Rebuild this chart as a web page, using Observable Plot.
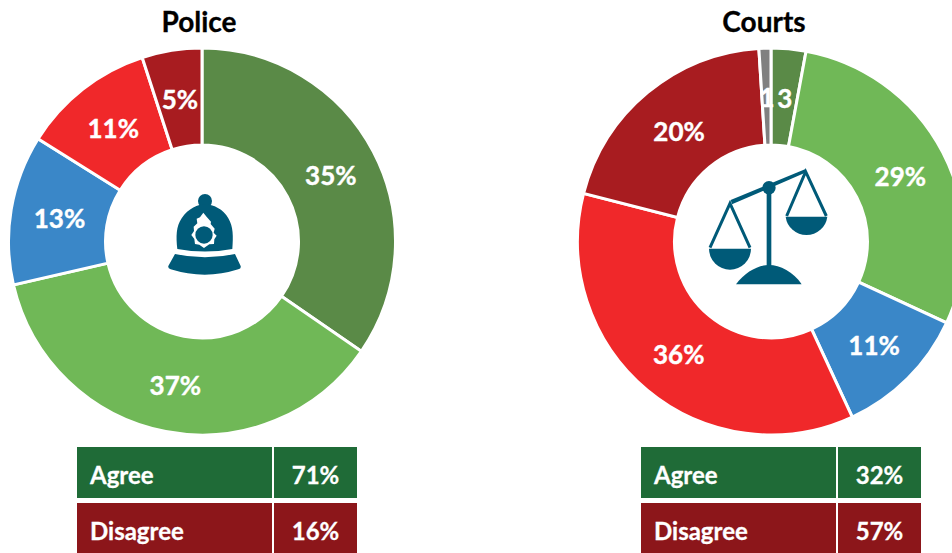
<!DOCTYPE html>
<html>
<head>
<meta charset="utf-8">
<script src="https://cdn.jsdelivr.net/npm/d3@7"></script>
<script src="https://cdn.jsdelivr.net/npm/@observablehq/plot@0.6"></script>
<style>
  html, body { margin: 0; padding: 0; background: #fff; }
  #page { position: relative; width: 952px; height: 553px; overflow: hidden; font-family: Lato, sans-serif; }
  #page svg { position: absolute; left: 0; top: 0; }
  .title { position: absolute; top: 3px; font-size: 28px; font-weight: 700; color: #000; transform: translateX(-50%); line-height: 36px; -webkit-text-stroke: 0.3px #000; }
  .tcell { position: absolute; color: #fff; font-size: 24px; font-weight: 700; box-sizing: border-box; display: flex; align-items: center; padding-top: 3px; -webkit-text-stroke: 0.3px #fff; }
</style>
</head>
<body>
<div id="page"></div>
<script>
const categories = ["Strongly agree", "Tend to agree", "Neither", "Tend to disagree", "Strongly disagree", "Don't know"];
const colours = ["#5A8A47", "#70B857", "#3A87C8", "#F0282A", "#A81C20", "#808080"];

const policeValues = [34.6, 36.8, 12.5, 11.1, 5.0];
const policeLabels = ["35%", "37%", "13%", "11%", "5%"];
const courtsValues = [2.9, 29.0, 11.2, 35.9, 20.0, 1.0];
const courtsLabels = ["3", "29%", "11%", "36%", "20%", "1"];

const panelNames = ["Police", "Courts"];
const summaryLabels = ["Agree", "Disagree"];
const policeSummary = ["71%", "16%"];
const courtsSummary = ["32%", "57%"];

const rows = (values, labels) => values.map((value, i) => ({category: categories[i], value, label: labels[i]}));
const police = rows(policeValues, policeLabels);
const courts = rows(courtsValues, courtsLabels);

const cy = 241.5, rOuter = 193.5, rInner = 96.5, rLabel = 145;

function arcs(cx) {
  return (index, scales, values) => {
    const arc = d3.arc().innerRadius(rInner).outerRadius(rOuter);
    const g = d3.create("svg:g").attr("transform", `translate(${cx},${cy})`);
    for (const i of index) {
      g.append("path")
        .attr("d", arc({startAngle: values.x1[i], endAngle: values.x2[i]}))
        .attr("fill", values.fill[i])
        .attr("stroke", "#fff")
        .attr("stroke-width", 3);
    }
    return g.node();
  };
}
function polarText(cx) {
  return (index, scales, values, dimensions, context, next) => {
    const a = values.x;
    const X = Array.from(a, (t) => cx + rLabel * Math.sin(t));
    const Y = Array.from(a, (t) => cy + 2 - rLabel * Math.cos(t));
    return next(index, scales, {...values, x: X, y: Y}, dimensions, context);
  };
}
function donut(data, cx) {
  return [
    Plot.barX(data, Plot.stackX({x: "value", fill: "category", render: arcs(cx)})),
    Plot.text(data, Plot.stackX({
      x: "value", text: "label", fill: "#fff", stroke: "#fff", strokeWidth: 0.4, fontSize: 26, fontWeight: 700,
      fontFamily: "Lato, sans-serif", render: polarText(cx)
    }))
  ];
}
const ink = "#005A78";
function helmet() {
  const g = d3.create("svg:g").attr("transform", "translate(140,170) scale(0.3333)").attr("fill", ink);
  g.append("circle").attr("cx", 195).attr("cy", 93).attr("r", 21);
  g.append("path").attr("d", "M112,237 C108,200 108,170 125,145 C145,115 175,103 195,103 C220,103 250,118 265,145 C280,170 280,200 277,237 Q195,252 112,237 Z");
  g.append("path").attr("d", "M105,252 Q195,272 285,252 L302,288 Q304,296 295,298 Q195,330 92,298 Q83,295 85,288 Z");
  g.append("path").attr("fill", "#fff").attr("d", "M190,128 L201,142 L213,155 L212,162 L224,176 L221,188 L230,197 L223,208 L222,222 L208,223 L192,234 L178,224 L165,222 L163,207 L154,195 L162,183 L161,170 L172,160 L170,146 L180,142 Z");
  g.append("circle").attr("cx", 192).attr("cy", 195).attr("r", 26);
  return g.node();
}
function scales() {
  const g = d3.create("svg:g").attr("transform", "translate(690,150) scale(0.3333)").attr("fill", ink);
  g.append("path").attr("d", "M122,150 L345,58 L349,67 L126,163 Z");
  g.append("circle").attr("cx", 237).attr("cy", 113).attr("r", 20);
  g.append("rect").attr("x", 230).attr("y", 113).attr("width", 14).attr("height", 240);
  g.append("path").attr("d", "M138,403 C165,365 205,345 237,345 C270,345 310,365 335,403 Z");
  g.append("path").attr("d", "M57,296 L183,296 A63,63 0 0 1 57,296 Z");
  g.append("path").attr("d", "M287,200 L412,200 A63,63 0 0 1 287,200 Z");
  g.append("path").attr("fill", "none").attr("stroke", ink).attr("stroke-width", 9)
    .attr("d", "M60,293 L120,160 L180,293 M290,198 L347,65 L409,198");
  return g.node();
}

const chart = Plot.plot({
  width: 952, height: 553,
  margin: 0,
  style: {background: "transparent"},
  x: {domain: [0, 100], range: [0, 2 * Math.PI], axis: null},
  color: {domain: categories, range: colours},
  marks: [
    ...donut(police, 202),
    ...donut(courts, 771),
    helmet,
    scales
  ]
});
const page = document.getElementById("page");
page.appendChild(chart);

function addTitle(text, x) {
  const d = document.createElement("div");
  d.className = "title"; d.textContent = text; d.style.left = x + "px";
  page.appendChild(d);
}
addTitle(panelNames[0], 199);
addTitle(panelNames[1], 764);

function addTable(summary, x) {
  const fills = ["#1F6B37", "#8C161A"], tops = [447, 503], heights = [51, 52];
  summary.forEach((val, i) => {
    const a = document.createElement("div");
    a.className = "tcell"; a.textContent = summaryLabels[i];
    a.style.cssText = `left:${x}px;top:${tops[i]}px;width:195px;height:${heights[i]}px;background:${fills[i]};padding-left:13px;`;
    const b = document.createElement("div");
    b.className = "tcell"; b.textContent = val;
    b.style.cssText = `left:${x + 197}px;top:${tops[i]}px;width:83px;height:${heights[i]}px;background:${fills[i]};justify-content:center;`;
    page.append(a, b);
  });
}
addTable(policeSummary, 77);
addTable(courtsSummary, 641);
</script>
</body>
</html>
